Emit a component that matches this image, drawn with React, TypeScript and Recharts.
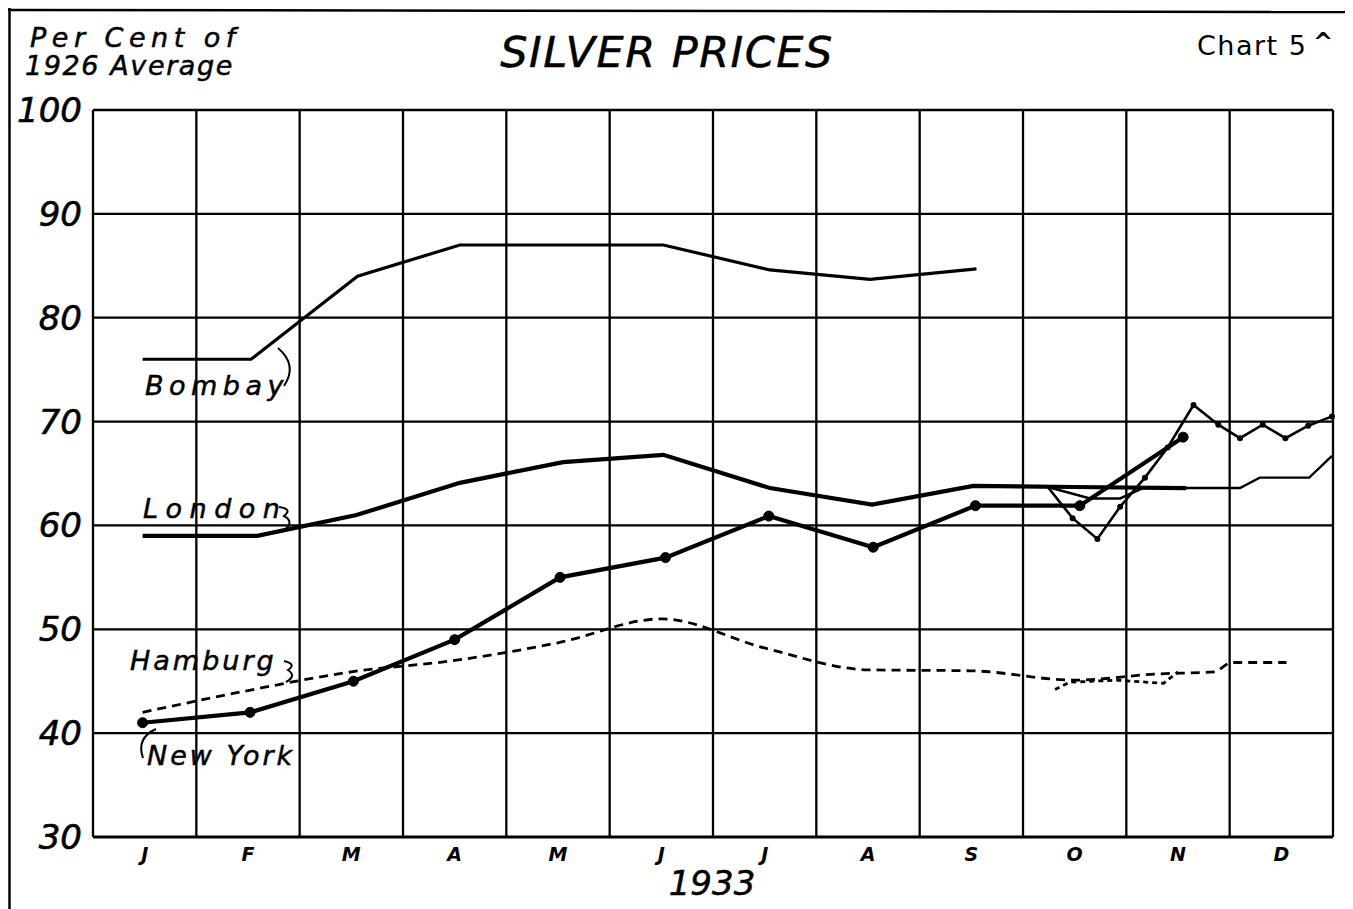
import React from "react";
import { LineChart, Line, XAxis, YAxis, ReferenceLine } from "recharts";

// Month letters and positions (months measured from the start of January)
const monthLabels = ["J", "F", "M", "A", "M", "J", "J", "A", "S", "O", "N", "D"];
const monthTicks = [0.5, 1.5, 2.5, 3.5, 4.5, 5.5, 6.5, 7.5, 8.5, 9.5, 10.5, 11.5];
const gridX = [0, 1, 2, 3, 4, 5, 6, 7, 8, 9, 10, 11, 12];
const yTicks = [30, 40, 50, 60, 70, 80, 90, 100];

// Per cent of 1926 average
const bombay = [
  { x: 0.48, y: 76 },
  { x: 1.53, y: 76 },
  { x: 2.56, y: 84 },
  { x: 3.55, y: 87 },
  { x: 5.52, y: 87 },
  { x: 6.55, y: 84.6 },
  { x: 7.52, y: 83.7 },
  { x: 8.55, y: 84.7 },
];

const londonMonthly = [
  { x: 0.48, y: 59 },
  { x: 1.59, y: 59 },
  { x: 2.55, y: 61 },
  { x: 3.55, y: 64.1 },
  { x: 4.55, y: 66.1 },
  { x: 5.52, y: 66.8 },
  { x: 6.55, y: 63.6 },
  { x: 7.54, y: 62 },
  { x: 8.52, y: 63.8 },
  { x: 9.5, y: 63.7 },
  { x: 10.58, y: 63.6 },
];

const londonWeekly = [
  { x: 9.24, y: 63.7 },
  { x: 9.65, y: 62.6 },
  { x: 9.94, y: 62.6 },
  { x: 10.16, y: 63.6 },
  { x: 11.1, y: 63.6 },
  { x: 11.29, y: 64.6 },
  { x: 11.77, y: 64.6 },
  { x: 11.99, y: 66.7 },
];

const newYorkMonthly = [
  { x: 0.48, y: 41 },
  { x: 1.52, y: 42 },
  { x: 2.52, y: 45 },
  { x: 3.5, y: 49 },
  { x: 4.52, y: 55 },
  { x: 5.54, y: 56.9 },
  { x: 6.54, y: 60.9 },
  { x: 7.55, y: 57.9 },
  { x: 8.54, y: 61.9 },
  { x: 9.55, y: 61.9 },
  { x: 10.55, y: 68.5 },
];

const newYorkWeekly = [
  { x: 9.24, y: 63.7 },
  { x: 9.48, y: 60.7 },
  { x: 9.72, y: 58.7 },
  { x: 9.94, y: 61.8 },
  { x: 10.18, y: 64.6 },
  { x: 10.4, y: 67.5 },
  { x: 10.65, y: 71.6 },
  { x: 10.89, y: 69.7 },
  { x: 11.1, y: 68.4 },
  { x: 11.32, y: 69.7 },
  { x: 11.54, y: 68.4 },
  { x: 11.76, y: 69.6 },
  { x: 11.99, y: 70.5 },
];

const hamburgMonthly = [
  { x: 0.48, y: 42 },
  { x: 1.5, y: 44.1 },
  { x: 2.5, y: 45.9 },
  { x: 3.5, y: 47 },
  { x: 4.5, y: 48.7 },
  { x: 5.5, y: 51 },
  { x: 6.5, y: 48.2 },
  { x: 7.5, y: 46.1 },
  { x: 8.5, y: 46 },
  { x: 9.5, y: 45.1 },
  { x: 10.3, y: 45.7 },
  { x: 10.85, y: 45.9 },
  { x: 11.02, y: 46.8 },
  { x: 11.55, y: 46.8 },
];

const hamburgWeekly = [
  { x: 9.31, y: 44.2 },
  { x: 9.45, y: 44.9 },
  { x: 9.9, y: 45.1 },
  { x: 10.36, y: 44.8 },
  { x: 10.5, y: 45.9 },
];

const FONT = "'DejaVu Sans', 'Liberation Sans', sans-serif";

const YTick = (props: any) => {
  const { x, y, payload } = props;
  return (
    <text
      x={x - 3}
      y={y}
      dy={12}
      textAnchor="end"
      fontFamily={FONT}
      fontStyle="italic"
      fontSize={34}
      fill="#000"
      stroke="#000"
      strokeWidth={0.6}
    >
      {payload.value}
    </text>
  );
};

const XTick = (props: any) => {
  const { x, y, payload } = props;
  const idx = monthTicks.indexOf(payload.value);
  return (
    <text
      x={x}
      y={y + 16}
      textAnchor="middle"
      fontFamily={FONT}
      fontStyle="italic"
      fontWeight="bold"
      fontSize={19}
      fill="#000"
    >
      {idx >= 0 ? monthLabels[idx] : ""}
    </text>
  );
};

const weeklyDot = (props: any) => {
  const { cx, cy, index } = props;
  if (index === 0) return <g key={`wd-${index}`} />;
  return <circle key={`wd-${index}`} cx={cx} cy={cy} r={3} fill="#000" stroke="none" />;
};

export default function App() {
  const W = 1345;
  const H = 901;
  return (
    <div style={{ position: "relative", width: W, height: H, background: "#fff" }}>
      <LineChart
        width={W}
        height={H}
        margin={{ top: 102, right: 20, bottom: 0, left: 0 }}
      >
        <XAxis
          type="number"
          dataKey="x"
          domain={[0, 12]}
          ticks={monthTicks}
          axisLine={false}
          tickLine={false}
          height={72}
          tick={<XTick />}
          interval={0}
        />
        <YAxis
          type="number"
          dataKey="y"
          domain={[30, 100]}
          ticks={yTicks}
          axisLine={false}
          tickLine={false}
          width={85}
          tick={<YTick />}
          interval={0}
        />
        {gridX.map((v) => (
          <ReferenceLine key={`gx${v}`} x={v} stroke="#000" strokeWidth={2.3} />
        ))}
        {yTicks.map((v) => (
          <ReferenceLine key={`gy${v}`} y={v} stroke="#000" strokeWidth={v === 30 ? 2.8 : 2.3} />
        ))}
        <Line
          data={bombay}
          dataKey="y"
          type="linear"
          stroke="#000"
          strokeWidth={3.2}
          dot={false}
          activeDot={false}
          isAnimationActive={false}
        />
        <Line
          data={londonWeekly}
          dataKey="y"
          type="linear"
          stroke="#000"
          strokeWidth={2.4}
          dot={false}
          activeDot={false}
          isAnimationActive={false}
        />
        <Line
          data={londonMonthly}
          dataKey="y"
          type="linear"
          stroke="#000"
          strokeWidth={4.2}
          dot={false}
          activeDot={false}
          isAnimationActive={false}
        />
        <Line
          data={hamburgMonthly}
          dataKey="y"
          type="monotone"
          stroke="#000"
          strokeWidth={2.8}
          strokeDasharray="9 6"
          dot={false}
          activeDot={false}
          isAnimationActive={false}
        />
        <Line
          data={hamburgWeekly}
          dataKey="y"
          type="linear"
          stroke="#000"
          strokeWidth={2.8}
          strokeDasharray="5 4"
          dot={false}
          activeDot={false}
          isAnimationActive={false}
        />
        <Line
          data={newYorkWeekly}
          dataKey="y"
          type="linear"
          stroke="#000"
          strokeWidth={2.6}
          dot={weeklyDot}
          activeDot={false}
          isAnimationActive={false}
        />
        <Line
          data={newYorkMonthly}
          dataKey="y"
          type="linear"
          stroke="#000"
          strokeWidth={4.2}
          dot={{ r: 5, fill: "#000", stroke: "#000", strokeWidth: 1 }}
          activeDot={false}
          isAnimationActive={false}
        />
      </LineChart>

      <svg
        width={W}
        height={H}
        style={{ position: "absolute", left: 0, top: 0, pointerEvents: "none" }}
      >
        {/* frame */}
        <line x1={0} y1={2} x2={W} y2={4} stroke="#000" strokeWidth={2.5} />
        <line x1={1.5} y1={0} x2={1.5} y2={H} stroke="#000" strokeWidth={2.5} />

        <g fontFamily={FONT} fontStyle="italic" fill="#000" stroke="#000" strokeWidth={0.5}>
          <text x={22} y={39} fontSize={27} letterSpacing={5.5}>Per Cent of</text>
          <text x={17} y={67} fontSize={27} letterSpacing={1.6}>1926 Average</text>
          <text x={659} y={59} fontSize={43} textAnchor="middle" letterSpacing={1.5}>SILVER PRICES</text>
          <text x={704} y={887} fontSize={34} textAnchor="middle">1933</text>
          <text x={137} y={387} fontSize={27} letterSpacing={5.5}>Bombay</text>
          <text x={135} y={510} fontSize={27} letterSpacing={7.5}>London</text>
          <text x={122} y={662} fontSize={27} letterSpacing={3}>Hamburg</text>
          <text x={139} y={757} fontSize={27} letterSpacing={3}>New York</text>
        </g>
        <text x={1189} y={47} fontFamily={FONT} fontSize={27} fill="#000" letterSpacing={1.5}>
          Chart 5
        </text>
        <text x={1305} y={42} fontFamily={FONT} fontSize={24} fontWeight="bold" fill="#000">
          ^
        </text>

        {/* label connectors */}
        <g fill="none" stroke="#000" strokeWidth={2}>
          <path d="M270,340 Q290,357 276,378" />
          <path d="M271,499 Q285,501 276,508 Q287,514 276,522" />
          <path d="M276,653 Q289,656 280,662 Q289,668 278,674" />
          <path d="M148,721 Q128,730 135,750" />
        </g>
      </svg>
    </div>
  );
}
